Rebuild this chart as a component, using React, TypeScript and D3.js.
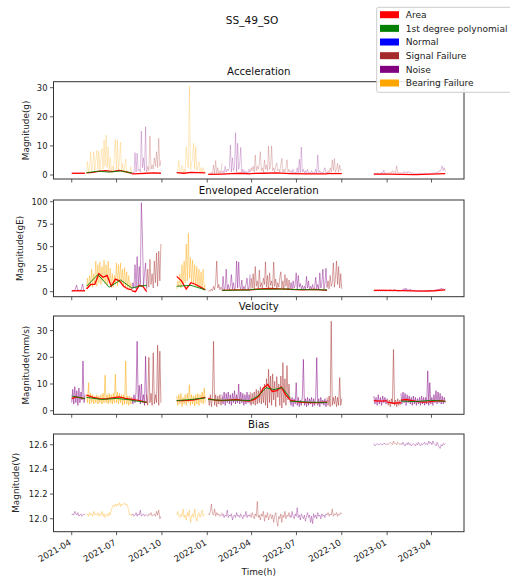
import React from "react";
import * as d3 from "d3";

const W = 510;
const H = 578;
const FONT = "DejaVu Sans, sans-serif";

// time segments, each labelled with a condition class
const segStart = ["2021-04-01", "2021-05-01", "2021-08-01", "2021-08-31", "2021-10-31", "2022-01-03", "2022-01-31", "2022-03-29", "2022-06-18", "2022-09-01", "2022-12-05", "2023-01-01", "2023-01-29"];
const segEnd = ["2021-04-28", "2021-08-01", "2021-08-31", "2021-09-29", "2021-12-28", "2022-01-31", "2022-03-29", "2022-06-18", "2022-09-01", "2022-10-01", "2023-01-01", "2023-01-29", "2023-04-29"];
const segClass = ["Noise", "Bearing Failure", "Noise", "Signal Failure", "Bearing Failure", "Signal Failure", "Noise", "Signal Failure", "Noise", "Signal Failure", "Noise", "Signal Failure", "Noise"];

const legendLabels = ["Area", "1st degree polynomial", "Normal", "Signal Failure", "Noise", "Bearing Failure"];
const legendColors = ["#ff0000", "#008000", "#0000ff", "#a52a2a", "#800080", "#ffa500"];

// acceleration (g)
const accRaw = [
  [0.5, 0.6, 0.5, 0.7, 0.5, 0.6, 0.5, 0.8, 0.5, 0.6, 0.5, 0.6],
  [0.8, 4.6, 1.0, 2.5, 8.0, 1.2, 3.5, 8.0, 1.5, 5.0, 8.5, 2.0, 8.3, 1.5, 6.0, 9.0, 2.0, 12.0, 3.0, 13.7, 2.5, 9.6, 1.5, 6.0, 1.2, 3.0, 1.0, 7.0, 12.3, 2.0, 12.0, 1.5, 5.0, 11.3, 1.2, 4.0, 0.8, 2.0, 5.5, 0.7, 1.5, 0.6, 1.0, 2.8, 0.6],
  [0.5, 1.0, 0.6, 7.7, 1.0, 7.5, 1.5, 2.0, 1.0, 15.1, 2.5, 5.9, 1.5, 16.6, 1.0],
  [1.0, 3.0, 1.5, 13.4, 2.0, 3.5, 2.0, 5.9, 3.0, 8.0, 2.5, 12.6, 3.0, 5.0],
  [0.8, 1.5, 5.0, 0.8, 1.2, 3.3, 0.8, 2.0, 1.0, 9.7, 5.0, 2.5, 30.6, 2.0, 4.0, 5.5, 10.9, 2.0, 9.7, 1.5, 3.0, 4.5, 1.0, 2.5, 1.0, 2.6, 0.8, 1.5],
  [0.3, 0.5, 0.4, 1.0, 0.4, 3.4, 0.5, 5.0, 0.6, 2.5, 0.5, 1.5, 0.6, 4.0],
  [0.5, 1.5, 0.6, 3.0, 1.0, 2.0, 1.5, 2.5, 10.3, 1.0, 5.9, 1.5, 3.0, 14.5, 1.0, 10.9, 2.0, 4.0, 9.5, 1.0, 2.0, 0.6, 1.5, 0.5, 1.2, 0.5, 2.0, 0.6],
  [1.0, 2.5, 1.5, 3.0, 1.0, 6.9, 1.5, 3.0, 2.0, 4.0, 8.0, 1.5, 2.5, 1.0, 5.2, 2.0, 3.5, 1.5, 10.0, 2.0, 3.0, 10.0, 1.5, 2.5, 1.0, 3.0, 4.2, 1.5, 2.0, 1.0, 3.5, 5.7, 1.0, 2.0, 1.0, 2.5, 5.2, 1.0, 2.0, 1.0],
  [0.6, 1.5, 0.5, 2.0, 0.6, 1.0, 0.5, 2.5, 0.6, 5.4, 0.8, 9.6, 1.0, 2.0, 0.6, 1.5, 0.5, 2.0, 0.6, 1.0, 0.5, 1.5, 0.6, 1.0, 0.5, 2.0, 0.6, 6.9, 0.8, 1.5, 0.5, 1.0, 0.5, 1.5, 2.5, 0.6, 1.0],
  [0.6, 1.5, 0.8, 2.5, 1.0, 5.2, 1.5, 5.6, 1.0, 2.0, 4.0, 1.0, 3.4, 1.5, 2.0],
  [0.4, 0.6, 0.4, 0.8, 0.5, 0.6, 0.4, 1.0, 0.5, 1.7, 0.5, 0.7, 0.5],
  [0.5, 0.8, 0.6, 1.0, 0.7, 1.5, 0.8, 1.2, 0.6, 3.2, 0.8, 1.0, 0.6, 0.8],
  [0.5, 0.8, 0.6, 1.2, 0.7, 1.0, 0.6, 1.3, 0.8, 1.0, 0.6, 0.8, 0.5, 0.7, 0.5, 0.6, 0.4, 0.6, 0.5, 0.7, 0.5, 0.6, 0.4, 0.7, 0.5, 0.6, 0.4, 0.5, 0.4, 0.6, 0.5, 0.7, 0.5, 0.8, 0.6, 1.0, 0.8, 1.5, 1.2, 2.0, 3.1, 1.5, 2.5, 1.2],
];
const accArea = [
  [0.6, 0.6], [0.7, 0.9, 1.3, 1.5, 1.2, 1.6, 1.2, 0.6], [0.4, 0.5, 0.6], [0.6, 0.7, 0.6],
  [0.8, 0.6, 0.9, 0.8, 0.7], [0.2, 0.3], [0.3, 0.5, 0.6, 0.4], [0.5, 0.6, 0.7, 0.5],
  [0.5, 0.4, 0.4], [0.5, 0.5], [0.3, 0.3], [0.3, 0.2], [0.2, 0.1, 0.3, 0.5],
];
const accPoly = [[], [0.8, 1.3, 1.0, 1.4, 0.7], [], [], [], [], [], [], [], [], [], [], []];

// enveloped acceleration (gE)
const envRaw = [
  [0.5, 1.0, 0.8, 3.0, 7.2, 1.0, 2.0, 0.8, 3.0, 8.6, 1.0, 0.8],
  [3, 15, 4, 18, 6, 25, 5, 20, 8, 34, 6, 30, 10, 33, 8, 28, 12, 35, 9, 30, 7, 34, 10, 26, 6, 20, 5, 18, 8, 32, 6, 30, 10, 32, 8, 25, 6, 27, 5, 22, 4, 18, 3, 10, 2],
  [2, 10, 4, 30, 3, 39, 5, 28, 8, 99, 62, 6, 20, 32, 4],
  [2, 25, 5, 36, 8, 20, 4, 34, 10, 43, 6, 45, 12, 53],
  [3, 12, 5, 20, 4, 30, 8, 34, 10, 53, 12, 65, 15, 38, 10, 35, 8, 30, 6, 28, 5, 25, 4, 22, 3, 25, 2, 8],
  [0.5, 1, 0.5, 3, 1, 6, 2, 10, 34, 4, 8, 2, 5, 3],
  [1, 17, 2, 4, 25, 3, 8, 2, 6, 19, 3, 10, 2, 5, 34, 4, 33, 6, 3, 13, 2, 6, 3, 8, 15, 2, 5, 19],
  [3, 15, 4, 20, 2, 28, 6, 12, 3, 24, 5, 10, 4, 15, 8, 33, 5, 18, 3, 21, 7, 12, 4, 33, 6, 14, 3, 10, 5, 16, 22, 4, 12, 3, 19, 6, 15, 2, 13, 4],
  [3, 10, 2, 12, 4, 8, 21, 3, 18, 5, 9, 3, 7, 2, 6, 3, 17, 4, 12, 2, 6, 3, 8, 2, 5, 16, 3, 8, 2, 21, 4, 10, 25, 3, 9, 26, 5],
  [4, 12, 3, 18, 6, 10, 32, 5, 15, 34, 8, 28, 4, 20, 3],
  [0.5, 1, 0.8, 1.5, 0.6, 2, 0.8, 1.2, 0.6, 1.8, 0.7, 1, 0.8],
  [0.8, 1.5, 0.6, 2.5, 1, 1.2, 0.8, 3, 1, 1.5, 0.7, 1, 0.6, 1.2],
  [1, 2, 1.5, 3.5, 1.2, 4, 1.5, 2.5, 1, 3, 1.2, 2, 0.8, 1.5, 0.6, 1.2, 0.5, 1, 0.6, 1.5, 0.8, 1.2, 0.5, 1, 0.6, 0.8, 0.5, 1, 0.6, 1.2, 0.8, 1.5, 1, 2, 1.2, 2.5, 1.5, 3, 2, 4, 2.5, 3.5, 2, 3],
];
const envArea = [
  [1, 1], [3, 8, 8, 20, 16, 18, 6, 14, 12, 6, 3, 2], [1, 0, 7, 6, 0], [],
  [17, 12, 3, 10, 8, 5, 2], [], [1.5, 2, 2], [2, 3, 3.5, 3, 2.5],
  [2.5, 2, 2.5, 1.5], [], [1.5, 1.5], [1.5, 1.2], [1.2, 0.8, 0.5, 1.0, 2.0],
];
const envPoly = [[], [6, 19, 5, 13, 4], [4, 6, 7], [], [6, 7, 2], [], [1.5, 1.8], [2.5, 3], [2.5, 2], [], [], [], []];

// velocity (mm/s)
const velRaw = [
  [3, 8, 2.5, 9, 3, 7.5, 2, 8.5, 3, 7, 4, 18.6, 3, 6],
  [6, 3, 10.5, 2.5, 6.5, 3, 6, 2.5, 5.5, 3, 6, 2.5, 5.5, 3, 6, 2.5, 6.5, 3, 13.3, 3, 6, 2.5, 6.5, 3, 6, 2.5, 6.5, 3, 13.6, 3, 7, 2.5, 6.5, 3, 6, 2, 6, 2.5, 18.6, 2.5, 5.5, 2, 5.5, 2.5, 5],
  [5, 2.5, 6, 3, 7, 26, 4, 9.5, 2.5, 10, 3, 6, 2, 20.4, 3],
  [6, 2, 20, 3, 6.5, 2, 21.7, 2.5, 6, 3, 24.5, 2, 22.3, 3],
  [5.5, 2, 6, 2.5, 6.5, 1.5, 5, 2.5, 6, 2, 6.5, 3, 9.7, 2, 6, 2.5, 5.5, 1.8, 6, 2.5, 6.5, 2, 6, 3, 7, 2.5, 8.5, 3],
  [5, 2, 6, 1.5, 5.5, 26, 2, 6, 1.5, 5.5, 2.5, 6, 2, 5],
  [6, 2.5, 7, 2, 6.5, 3, 7, 2.5, 6, 2, 6.5, 3, 7.5, 2.5, 6, 3, 10, 2.5, 7, 3, 6.5, 2, 6, 2.5, 7, 3, 6, 2.5],
  [7, 2, 6.5, 2.5, 7, 2, 8, 2.5, 7.5, 3, 9, 2.5, 8.5, 3, 10, 2, 12, 1, 15.5, 3, 13, 2, 13.8, 4, 11, 1.5, 12.8, 5, 10, 2, 13, 1, 18, 3, 12, 2, 16.9, 4, 10, 3],
  [4.5, 2, 5, 1.5, 4.5, 2.5, 10.5, 2, 5, 1.5, 4, 2, 5.5, 19.2, 2, 4.5, 1.5, 5, 2, 4.5, 2.5, 5, 1.5, 4.5, 2, 5, 19.9, 2, 4.5, 1.5, 5, 2.5, 4, 2, 4.5, 1.5, 4],
  [5, 2, 5.5, 1.5, 33.5, 2, 5, 2.5, 5.5, 1.5, 5, 2, 12.4, 2, 4.5],
  [5.5, 2.5, 5, 2, 6, 2.5, 5, 2, 5.5, 3, 5, 2.5, 4.5],
  [4.5, 2, 4, 1.5, 4.5, 2.5, 22.9, 2, 4, 1.5, 4.5, 2, 4, 2],
  [6.5, 2.5, 7, 3, 6.5, 2, 6, 3, 5.5, 2.5, 5, 2, 5.5, 2.5, 5, 2, 4.5, 2.5, 5, 2, 5.5, 2.5, 5, 2, 5, 2.5, 14.9, 2, 10.5, 2.5, 5, 2, 6, 3, 7.5, 2.5, 7, 3, 6.5, 2.5, 5.5, 2.5, 5, 3],
];
const velArea = [
  [4.5, 5.2, 4.8, 4.5], [5.8, 5.0, 4.5, 4.4, 4.8, 5.2, 4.6, 4.2], [4.2, 4.0, 3.6, 3.0], [],
  [3.8, 3.8, 3.9, 4.1, 4.5, 5.0], [4.5, 4.0, 3.8], [3.8, 4.0, 4.2, 3.8, 3.6],
  [3.8, 4.2, 5.5, 8.5, 9.8, 7.2, 7.5, 8.9, 6.0, 4.2], [4.0, 3.2, 3.0, 3.0, 3.2], [],
  [3.8, 3.6, 3.7], [3.2, 2.8, 3.0], [4.0, 4.2, 3.8, 3.4, 3.2, 3.3, 3.6, 3.8, 3.5],
];
const velPoly = [
  [5.5, 4.5], [5.0, 4.2, 4.6, 4.0], [3.8, 3.2], [], [3.8, 4.2, 4.8], [4.2, 3.9], [3.9, 4.0, 3.8],
  [3.8, 5.5, 8.6, 7.9, 8.7, 4.8], [3.6, 3.2, 3.1], [], [], [], [3.6, 3.4, 3.9, 3.5],
];

// bias (V)
const biasRaw = [
  [12.03, 12.04, 12.03, 12.06, 12.04, 12.03, 12.05, 12.02, 12.03, 12.04, 12.02, 12.03, 12.04, 12.03],
  [12.03, 12.04, 12.02, 12.05, 12.03, 12.04, 12.02, 12.06, 12.03, 12.04, 12.03, 12.05, 12.02, 12.04, 12.03, 12.06, 12.02, 12.04, 12.01, 12.03, 12.04, 12.02, 12.05, 12.03, 12.07, 12.09, 12.11, 12.10, 12.12, 12.10, 12.12, 12.11, 12.13, 12.10, 12.12, 12.11, 12.12, 12.13, 12.11, 12.12, 12.10, 12.06, 12.03, 12.04, 12.02],
  [12.03, 12.04, 12.02, 12.03, 12.05, 12.02, 12.04, 12.03, 12.07, 12.02, 12.03, 12.04, 12.02, 12.03, 12.04],
  [12.03, 12.02, 12.04, 12.03, 12.05, 12.02, 12.03, 12.04, 12.02, 12.06, 12.03, 12.07, 12.00, 12.02],
  [12.03, 12.06, 12.02, 12.01, 12.04, 12.02, 12.08, 12.01, 12.03, 11.99, 12.05, 12.02, 12.07, 11.97, 12.02, 12.04, 12.01, 12.08, 12.02, 11.98, 12.03, 12.05, 12.01, 12.03, 12.07, 12.02, 12.03, 12.04],
  [12.04, 12.03, 12.06, 12.12, 12.04, 12.03, 12.08, 12.02, 12.05, 12.03, 12.04, 12.02, 12.03, 12.05],
  [12.02, 12.04, 12.01, 12.03, 12.02, 12.07, 12.01, 12.03, 12.02, 12.04, 11.99, 12.02, 12.03, 12.01, 12.05, 12.02, 12.03, 12.01, 12.04, 12.02, 12.00, 12.03, 12.02, 12.06, 12.01, 12.03, 12.02, 12.04],
  [12.03, 12.01, 12.05, 12.02, 12.00, 12.04, 12.02, 12.14, 12.01, 12.03, 11.99, 12.04, 12.02, 12.06, 11.98, 12.03, 12.01, 12.05, 11.99, 12.02, 12.04, 12.00, 12.03, 11.97, 12.02, 12.05, 11.98, 11.94, 12.02, 12.00, 12.04, 11.97, 12.03, 12.01, 12.06, 12.00, 12.03, 12.02, 12.05, 12.01],
  [12.03, 12.01, 12.06, 12.02, 12.00, 12.04, 12.02, 12.09, 12.01, 12.03, 11.99, 12.04, 12.02, 12.00, 12.03, 11.98, 12.02, 12.05, 12.01, 12.03, 11.97, 12.02, 11.96, 12.04, 12.01, 12.03, 12.00, 12.05, 12.02, 12.03, 12.00, 12.04, 12.02, 12.03, 12.01, 12.04, 12.03],
  [12.03, 12.05, 12.02, 12.04, 12.03, 12.08, 12.02, 12.04, 12.03, 12.05, 12.02, 12.04, 12.03, 12.05, 12.04],
  [12.61, 12.59, 12.60, 12.61, 12.60, 12.60, 12.61, 12.60, 12.60, 12.61, 12.61, 12.60, 12.61],
  [12.61, 12.60, 12.61, 12.62, 12.61, 12.60, 12.63, 12.61, 12.61, 12.60, 12.62, 12.61, 12.60, 12.61],
  [12.61, 12.60, 12.62, 12.60, 12.59, 12.61, 12.60, 12.62, 12.60, 12.61, 12.59, 12.60, 12.61, 12.60, 12.59, 12.61, 12.60, 12.62, 12.60, 12.59, 12.61, 12.60, 12.61, 12.62, 12.60, 12.61, 12.60, 12.63, 12.61, 12.62, 12.60, 12.63, 12.61, 12.60, 12.59, 12.62, 12.60, 12.58, 12.57, 12.60, 12.59, 12.61, 12.60, 12.61],
];
const emptyFit = segStart.map(() => [] as number[]);

const accTicks = [0, 10, 20, 30];
const envTicks = [0, 25, 50, 75, 100];
const velTicks = [0, 10, 20, 30];
const biasTicks = [12.0, 12.2, 12.4, 12.6];

const classColor: Record<string, string> = {
  "Normal": "#0000ff",
  "Signal Failure": "#a52a2a",
  "Noise": "#800080",
  "Bearing Failure": "#ffa500",
};

const panels = [
  { title: "Acceleration", ylabel: "Magnitude(g)", domain: [-1.37, 32.06], ticks: accTicks, fmt: d3.format("d"), raw: accRaw, area: accArea, poly: accPoly, top: 81.7, bottom: 179, labelX: 28.5, alpha: 0.35 },
  { title: "Enveloped Acceleration", ylabel: "Magnitude(gE)", domain: [-5.6, 101.9], ticks: envTicks, fmt: d3.format("d"), raw: envRaw, area: envArea, poly: envPoly, top: 200, bottom: 296.7, labelX: 22.5, alpha: 0.6 },
  { title: "Velocity", ylabel: "Magnitude(mm/s)", domain: [-1.34, 35.46], ticks: velTicks, fmt: d3.format("d"), raw: velRaw, area: velArea, poly: velPoly, top: 316, bottom: 414.3, labelX: 28.5, alpha: 0.7 },
  { title: "Bias", ylabel: "Magnitude(V)", domain: [11.895, 12.687], ticks: biasTicks, fmt: d3.format(".1f"), raw: biasRaw, area: emptyFit, poly: emptyFit, top: 434, bottom: 531.7, labelX: 18.5, alpha: 0.5 },
];

const parse = d3.timeParse("%Y-%m-%d");
const left = 53.5;
const right = 464;
const x = d3.scaleTime()
  .domain([parse("2021-02-23") as Date, parse("2023-06-06") as Date])
  .range([left, right]);
const xTicks = x.ticks(d3.timeMonth.every(3) as d3.TimeInterval);
const xFmt = d3.timeFormat("%Y-%m");

// spread a segment's samples evenly across its time span
const toPoints = (seg: number, vals: number[]): [Date, number][] => {
  const s = (parse(segStart[seg]) as Date).getTime();
  const e = (parse(segEnd[seg]) as Date).getTime();
  const n = vals.length;
  return vals.map((v, j) => [new Date(s + ((e - s) * j) / Math.max(n - 1, 1)), v]);
};

const Panel = ({ p, last }: { p: typeof panels[number]; last: boolean }) => {
  const y = d3.scaleLinear().domain(p.domain).range([p.bottom, p.top]);
  const line = d3.line<[Date, number]>().x(d => x(d[0])).y(d => y(d[1]));
  const mid = (p.top + p.bottom) / 2;
  return (
    <g>
      <text x={(left + right) / 2} y={p.top - 6.5} textAnchor="middle" fontSize={10.2} fill="#111">{p.title}</text>
      {p.raw.map((vals, i) => (
        <path key={"r" + i} d={line(toPoints(i, vals)) || ""} fill="none"
          stroke={classColor[segClass[i]]} strokeWidth={0.7} strokeOpacity={p.alpha} strokeLinejoin="round" />
      ))}
      {p.area.map((vals, i) => vals.length > 1 ? (
        <path key={"a" + i} d={line(toPoints(i, vals)) || ""} fill="none" stroke="#ff0000" strokeWidth={1.3} />
      ) : null)}
      {p.poly.map((vals, i) => vals.length > 1 ? (
        <path key={"p" + i} d={line(toPoints(i, vals)) || ""} fill="none" stroke="#008000" strokeWidth={0.9} />
      ) : null)}
      <rect x={left} y={p.top} width={right - left} height={p.bottom - p.top} fill="none" stroke="#333" strokeWidth={1} />
      {p.ticks.map(t => (
        <g key={"yt" + t}>
          <line x1={left - 3.5} x2={left} y1={y(t)} y2={y(t)} stroke="#333" strokeWidth={0.8} />
          <text x={left - 6} y={y(t)} dy="0.35em" textAnchor="end" fontSize={8.4} fill="#222">{p.fmt(t)}</text>
        </g>
      ))}
      {xTicks.map(t => (
        <g key={"xt" + t.getTime()}>
          <line x1={x(t)} x2={x(t)} y1={p.bottom} y2={p.bottom + 3.5} stroke="#333" strokeWidth={0.8} />
          {last && (
            <text transform={`translate(${x(t)},${p.bottom + 12.5}) rotate(-30)`} textAnchor="end" fontSize={8.6} fill="#222">{xFmt(t)}</text>
          )}
        </g>
      ))}
      <text transform={`translate(${p.labelX},${mid}) rotate(-90)`} textAnchor="middle" fontSize={8.9} fill="#222">{p.ylabel}</text>
    </g>
  );
};

export default function App() {
  return (
    <svg width={W} height={H} style={{ position: "absolute", left: 0, top: 0, background: "#fff" }} fontFamily={FONT}>
      <rect width={W} height={H} fill="#fff" />
      <text x={252} y={24} textAnchor="middle" fontSize={10.6} fill="#111">SS_49_SO</text>
      {panels.map((p, i) => <Panel key={p.title} p={p} last={i === panels.length - 1} />)}
      <text x={(left + right) / 2} y={575} textAnchor="middle" fontSize={8.9} fill="#222">Time(h)</text>
      <g>
        <rect x={376.7} y={7.3} width={145} height={85} rx={2} fill="#fff" fillOpacity={0.85} stroke="#ccc" strokeWidth={1} />
        {legendLabels.map((lab, i) => {
          const cy = 14.7 + i * 13.66;
          return (
            <g key={lab}>
              <rect x={380} y={cy - 3.5} width={19} height={7} fill={legendColors[i]} />
              <text x={405.7} y={cy} dy="0.35em" fontSize={9.1} fill="#222">{lab}</text>
            </g>
          );
        })}
      </g>
    </svg>
  );
}
